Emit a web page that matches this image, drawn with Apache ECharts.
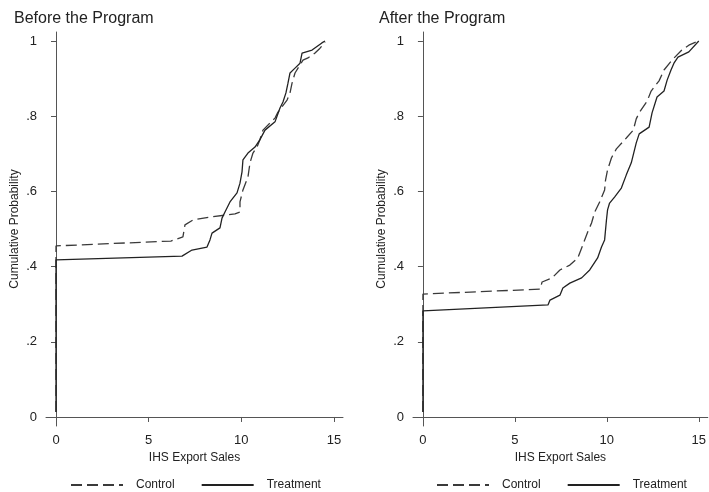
<!DOCTYPE html>
<html>
<head>
<meta charset="utf-8">
<script src="https://cdn.jsdelivr.net/npm/echarts@6/dist/echarts.min.js"></script>
<style>html,body{margin:0;padding:0;background:#fff}#c{width:709px;height:492px}</style>
</head>
<body>
<div id="c"></div>
<script>
var panelTitles = ['Before the Program', 'After the Program'];
var seriesNames = ['Control', 'Treatment'];
var xTicks = [0, 5, 10, 15];
var yTicks = [0, 0.2, 0.4, 0.6, 0.8, 1];
var yTickLabels = ['0', '.2', '.4', '.6', '.8', '1'];

var beforeControl = [[0,0.013],[0,0.455],[6.2,0.468],[6.85,0.479],[6.96,0.511],[7.39,0.524],[8.31,0.532],[9.66,0.540],[9.93,0.545],[9.93,0.572],[10.09,0.604],[10.36,0.638],[10.47,0.676],[10.63,0.702],[10.85,0.718],[11.0,0.737],[11.17,0.763],[11.82,0.795],[11.98,0.811],[12.47,0.843],[12.63,0.862],[12.74,0.888],[12.90,0.915],[13.33,0.949],[13.6,0.955],[13.98,0.968],[14.25,0.981],[14.52,0.997]];
var beforeTreatment = [[0,0.013],[0,0.418],[6.8,0.428],[7.34,0.444],[8.15,0.452],[8.31,0.471],[8.42,0.489],[8.85,0.503],[8.96,0.529],[9.12,0.545],[9.39,0.572],[9.77,0.596],[9.93,0.622],[10.04,0.652],[10.09,0.684],[10.36,0.702],[10.74,0.718],[11.0,0.737],[11.28,0.763],[11.82,0.785],[12.09,0.822],[12.25,0.838],[12.41,0.862],[12.52,0.888],[12.63,0.915],[12.90,0.928],[13.17,0.941],[13.28,0.968],[13.82,0.976],[14.35,0.995],[14.52,1.0]];
var afterControl = [[0,0.013],[0,0.327],[6.37,0.340],[6.48,0.359],[7.02,0.370],[7.45,0.391],[7.99,0.404],[8.42,0.423],[8.69,0.457],[8.96,0.492],[9.17,0.516],[9.34,0.545],[9.61,0.572],[9.88,0.604],[9.93,0.630],[10.04,0.657],[10.25,0.689],[10.52,0.713],[11.06,0.742],[11.44,0.763],[11.60,0.793],[11.76,0.809],[12.19,0.840],[12.41,0.867],[12.84,0.894],[13.11,0.923],[13.54,0.949],[14.08,0.976],[14.46,0.989],[14.84,0.997]];
var afterTreatment = [[0,0.013],[0,0.282],[6.8,0.298],[6.91,0.311],[7.45,0.324],[7.61,0.343],[7.99,0.356],[8.63,0.370],[9.07,0.391],[9.50,0.423],[9.71,0.452],[9.88,0.471],[9.98,0.524],[10.04,0.551],[10.15,0.569],[10.42,0.585],[10.79,0.609],[11.06,0.644],[11.33,0.676],[11.60,0.729],[11.76,0.753],[12.30,0.771],[12.46,0.809],[12.73,0.851],[13.11,0.867],[13.28,0.896],[13.49,0.923],[13.65,0.941],[13.87,0.957],[14.46,0.971],[15.0,1.0]];

var FONT = '"Liberation Sans",Arial,sans-serif';
var axisColor = '#555';
var textColor = '#222';

function xAxis(i) {
  return {
    type: 'value', gridIndex: i, min: -0.54, max: 15.49,
    name: 'IHS Export Sales', nameLocation: 'middle', nameGap: 24,
    nameTextStyle: {fontFamily: FONT, fontSize: 12, color: textColor},
    axisLine: {show: true, lineStyle: {color: axisColor, width: 1}},
    axisTick: {show: true, length: 5, lineStyle: {color: axisColor}, customValues: xTicks},
    axisLabel: {fontFamily: FONT, fontSize: 13, color: textColor, margin: 8, customValues: xTicks,
      formatter: function(v){ return String(v); }},
    splitLine: {show: false}
  };
}
function yAxis(i) {
  return {
    type: 'value', gridIndex: i, min: -0.024, max: 1.024,
    name: 'Cumulative Probability', nameLocation: 'middle', nameGap: 25,
    nameTextStyle: {fontFamily: FONT, fontSize: 12, color: textColor},
    axisLine: {show: true, lineStyle: {color: axisColor, width: 1}},
    axisTick: {show: true, length: 5, lineStyle: {color: axisColor}, customValues: yTicks},
    axisLabel: {fontFamily: FONT, fontSize: 13, color: textColor, margin: 9, customValues: yTicks,
      formatter: function(v){ var k = yTicks.findIndex(function(t){return Math.abs(t-v)<1e-6;}); return k>=0 ? yTickLabels[k] : ''; }},
    splitLine: {show: false}
  };
}
function lineSeries(name, data, i, dashed) {
  return {
    name: name, type: 'line', xAxisIndex: i, yAxisIndex: i, data: data,
    symbol: 'none', showSymbol: false, silent: true,
    lineStyle: {color: dashed ? '#3a3a3a' : '#222', width: 1.3, type: dashed ? [11, 5] : 'solid'},
    itemStyle: {color: dashed ? '#3a3a3a' : '#222'}
  };
}
function legend(left) {
  return {
    data: seriesNames, left: left, top: 479, width: 280, padding: 0,
    itemWidth: 52, itemHeight: 10, itemGap: 26, selectedMode: false,
    itemStyle: {opacity: 0},
    lineStyle: {opacity: 1},
    textStyle: {fontFamily: FONT, fontSize: 12, color: textColor, padding: [0, 0, 0, 8]}
  };
}

var chart = echarts.init(document.getElementById('c'), null, {renderer: 'canvas'});
chart.setOption({
  animation: false,
  backgroundColor: '#fff',
  title: [
    {text: panelTitles[0], left: 9, top: 6, textStyle: {fontFamily: FONT, fontSize: 16, fontWeight: 'normal', color: textColor}},
    {text: panelTitles[1], left: 374, top: 6, textStyle: {fontFamily: FONT, fontSize: 16, fontWeight: 'normal', color: textColor}}
  ],
  legend: [legend(70), legend(436)],
  grid: [
    {left: 46, top: 32, width: 297, height: 394},
    {left: 413, top: 32, width: 296, height: 394}
  ],
  xAxis: [xAxis(0), xAxis(1)],
  yAxis: [yAxis(0), yAxis(1)],
  series: [
    lineSeries(seriesNames[0], beforeControl, 0, true),
    lineSeries(seriesNames[1], beforeTreatment, 0, false),
    lineSeries(seriesNames[0], afterControl, 1, true),
    lineSeries(seriesNames[1], afterTreatment, 1, false)
  ]
});
</script>
</body>
</html>
